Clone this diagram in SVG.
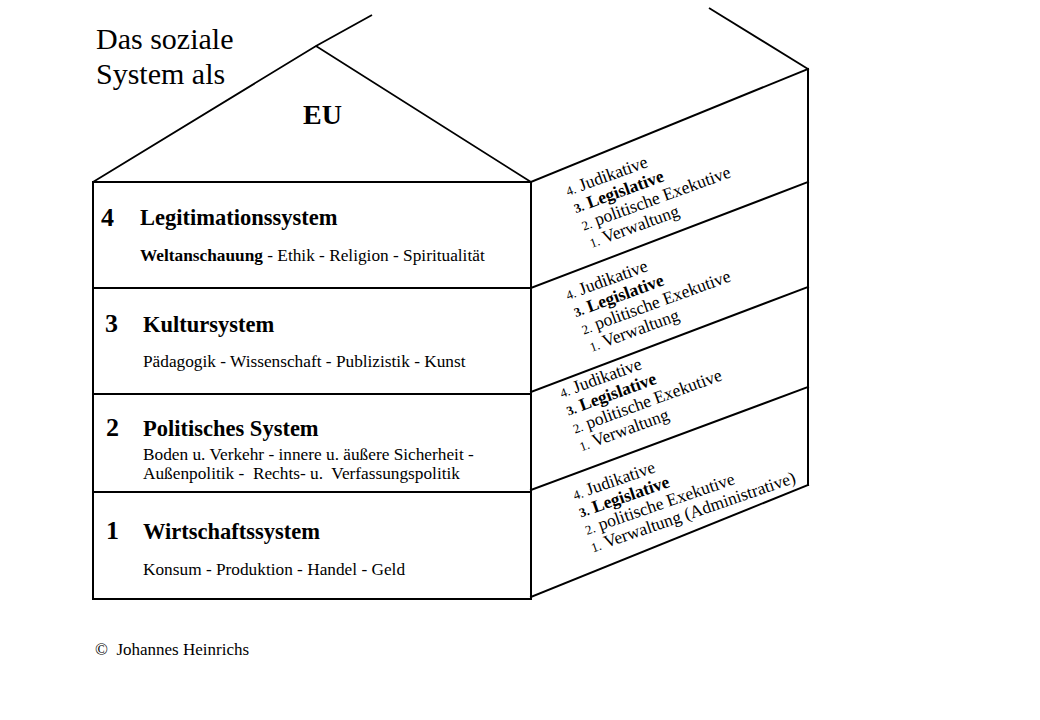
<svg xmlns="http://www.w3.org/2000/svg" width="1040" height="720" viewBox="0 0 1040 720">
<style>
  text { font-family: "Liberation Serif", "Times New Roman", serif; fill: #000; }
  .ln { stroke: #000; stroke-width: 2; fill: none; stroke-linecap: square; }
  .roof { stroke: #000; stroke-width: 1.8; fill: none; }
  .title { font-size: 30px; }
  .eu { font-size: 28px; font-weight: bold; }
  .num { font-size: 26px; font-weight: bold; }
  .head { font-size: 22.5px; font-weight: bold; }
  .sub { font-size: 17.3px; }
  .b { font-weight: bold; }
  .side { font-size: 17.5px; }
  .sn { font-size: 13px; }
  .foot { font-size: 17px; }
</style>
<rect width="1040" height="720" fill="#fff"/>

<g id="title">
  <text class="title" x="96" y="49">Das soziale</text>
  <text class="title" x="96" y="84">System als</text>
</g>

<g id="roof">
  <polyline class="roof" points="93,182 316,46 531,182"/>
  <line class="roof" x1="316" y1="46" x2="372" y2="15"/>
  <line class="roof" x1="709" y1="8" x2="808" y2="69"/>
  <text class="eu" x="303" y="124">EU</text>
</g>

<g id="frame">
  <rect class="ln" x="93" y="182" width="438" height="417"/>
  <line class="ln" x1="93" y1="288" x2="531" y2="288"/>
  <line class="ln" x1="93" y1="394" x2="531" y2="394"/>
  <line class="ln" x1="93" y1="492" x2="531" y2="492"/>
  <line class="ln" x1="531" y1="182" x2="808" y2="69"/>
  <line class="ln" x1="531" y1="288" x2="808" y2="182"/>
  <line class="ln" x1="531" y1="392" x2="808" y2="287"/>
  <line class="ln" x1="531" y1="490" x2="808" y2="387"/>
  <line class="ln" x1="531" y1="597" x2="808" y2="485"/>
  <line class="ln" x1="808" y1="69" x2="808" y2="485"/>
</g>

<g id="floor4">
  <text class="num" x="101" y="226">4</text>
  <text class="head" x="140" y="225">Legitimationssystem</text>
  <text class="sub" x="140" y="261"><tspan class="b">Weltanschauung</tspan> - Ethik - Religion - Spiritualität</text>
</g>

<g id="floor3">
  <text class="num" x="105" y="332">3</text>
  <text class="head" x="143" y="332">Kultursystem</text>
  <text class="sub" x="143" y="367">Pädagogik - Wissenschaft - Publizistik - Kunst</text>
</g>

<g id="floor2">
  <text class="num" x="106" y="436">2</text>
  <text class="head" x="143" y="436">Politisches System</text>
  <text class="sub" x="143" y="460">Boden u. Verkehr - innere u. äußere Sicherheit -</text>
  <text class="sub" x="143" y="479" xml:space="preserve">Außenpolitik -  Rechts- u.  Verfassungspolitik</text>
</g>

<g id="floor1">
  <text class="num" x="106" y="539">1</text>
  <text class="head" x="143" y="539">Wirtschaftssystem</text>
  <text class="sub" x="143" y="575">Konsum - Produktion - Handel - Geld</text>
</g>

<g id="side4" transform="translate(568,196) rotate(-20)">
  <text class="side" x="0" y="0"><tspan class="sn">4.</tspan> Judikative</text>
  <text class="side b" x="1.5" y="19"><tspan class="sn">3.</tspan> Legislative</text>
  <text class="side" x="3" y="38"><tspan class="sn">2.</tspan> politische Exekutive</text>
  <text class="side" x="4.5" y="57"><tspan class="sn">1.</tspan> Verwaltung</text>
</g>

<g id="side3" transform="translate(568,300) rotate(-20)">
  <text class="side" x="0" y="0"><tspan class="sn">4.</tspan> Judikative</text>
  <text class="side b" x="1.5" y="19"><tspan class="sn">3.</tspan> Legislative</text>
  <text class="side" x="3" y="38"><tspan class="sn">2.</tspan> politische Exekutive</text>
  <text class="side" x="4.5" y="57"><tspan class="sn">1.</tspan> Verwaltung</text>
</g>

<g id="side2" transform="translate(562,398) rotate(-20)">
  <text class="side" x="0" y="0"><tspan class="sn">4.</tspan> Judikative</text>
  <text class="side b" x="0" y="19"><tspan class="sn">3.</tspan> Legislative</text>
  <text class="side" x="0" y="38"><tspan class="sn">2.</tspan> politische Exekutive</text>
  <text class="side" x="0" y="57"><tspan class="sn">1.</tspan> Verwaltung</text>
</g>

<g id="side1" transform="translate(575,500) rotate(-19)">
  <text class="side" x="0" y="0"><tspan class="sn">4.</tspan> Judikative</text>
  <text class="side b" x="0" y="18.5"><tspan class="sn">3.</tspan> Legislative</text>
  <text class="side" x="0" y="37"><tspan class="sn">2.</tspan> politische Exekutive</text>
  <text class="side" x="0" y="55.5"><tspan class="sn">1.</tspan> Verwaltung (Administrative)</text>
</g>

<g id="footer">
  <text class="foot" x="95" y="655" xml:space="preserve">©  Johannes Heinrichs</text>
</g>
</svg>
